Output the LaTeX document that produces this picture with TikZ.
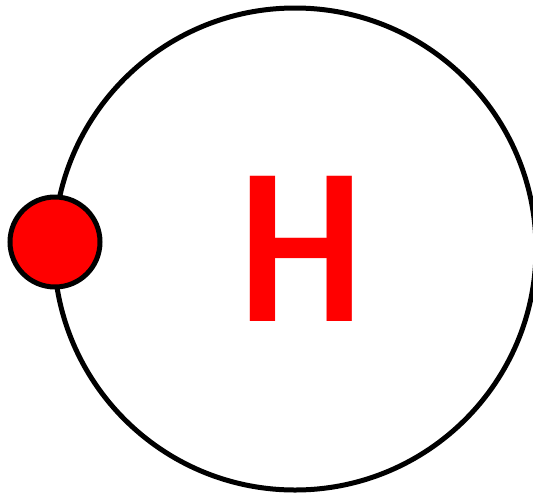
\documentclass[tikz,border=0pt]{standalone}
\usepackage{fontspec}
\newfontfamily\hfont{Carlito}
\begin{document}
\begin{tikzpicture}[x=1pt,y=-1pt,
  orbit/.style={draw=black,line width=5pt,circle,minimum size=482pt,inner sep=0pt},
  electron/.style={draw=black,line width=5pt,fill=red,circle,minimum size=90pt,inner sep=0pt},
  nucleus/.style={text=red,font=\hfont\bfseries\fontsize{224}{224}\selectfont,inner sep=0pt,xscale=0.875}]
\useasboundingbox (0,0) rectangle (533,496);
\node[orbit] (orb) at (295,249) {};
\node[electron] (e) at (55,242) {};
\node[nucleus,anchor=base] (h) at (301,321) {H};
\end{tikzpicture}
\end{document}
